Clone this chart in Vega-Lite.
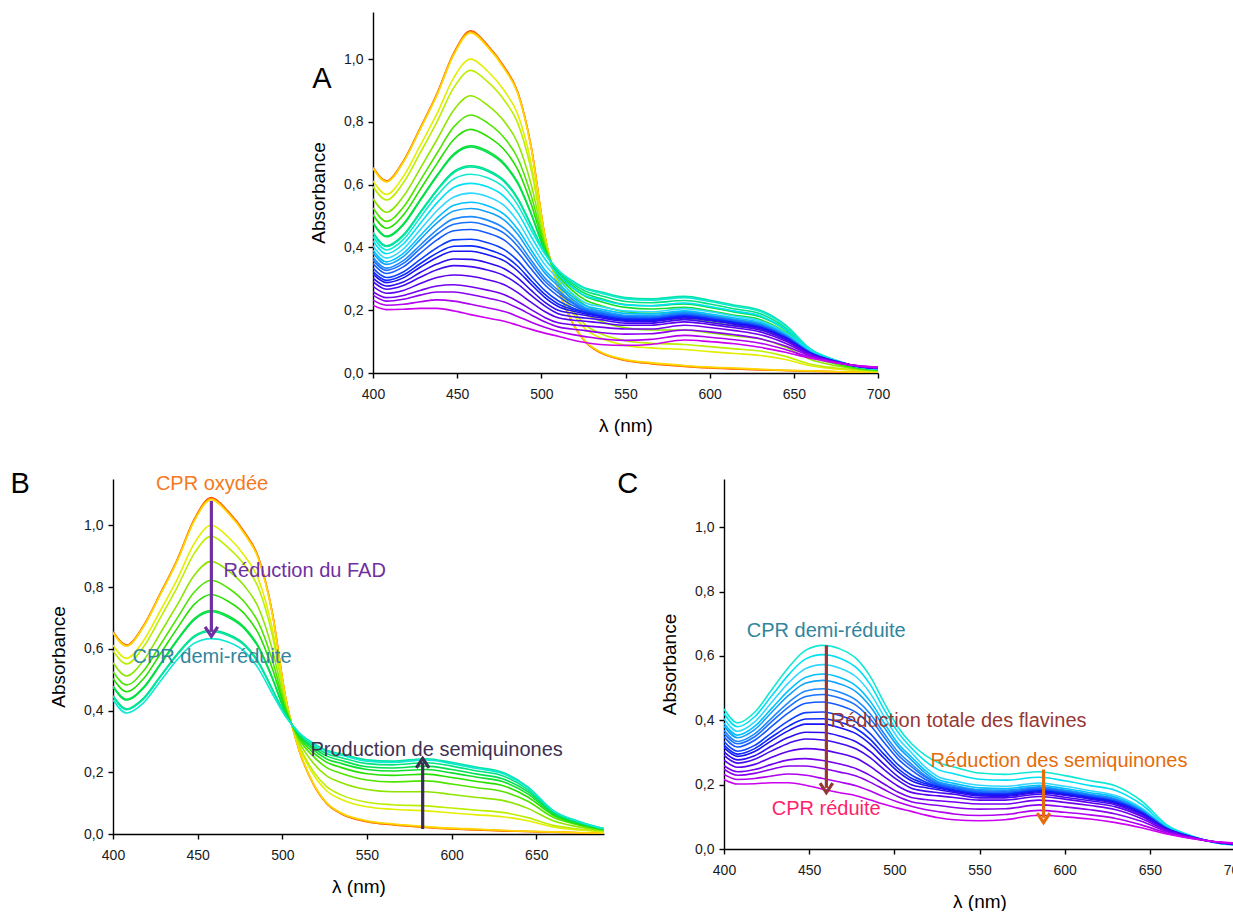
{
"$schema":"https://vega.github.io/schema/vega-lite/v6.json",
"background":"white",
"padding":{"left":10,"top":12,"right":0,"bottom":0},
"autosize":{"type":"pad"},
"config":{
 "view":{"stroke":null},
 "font":"Liberation Sans",
 "axis":{"domainColor":"#000","domainWidth":1.4,"tickColor":"#000","tickWidth":1.4,"tickSize":5,"labelColor":"#1a1a1a","labelFontSize":14,"labelFont":"Liberation Sans","titleFont":"Liberation Sans","titleFontSize":19,"titleFontWeight":"normal","titleColor":"#000","grid":false,"labelFlush":false,"labelOverlap":false},
 "axisX":{"labelPadding":9,"titlePadding":15},
 "axisY":{"labelPadding":5,"titlePadding":15}
},
"datasets":{"s":[
{"c":1,"w":400,"a":0.655},{"c":1,"w":408,"a":0.612},{"c":1,"w":418,"a":0.675},{"c":1,"w":428,"a":0.780},{"c":1,"w":438,"a":0.890},{"c":1,"w":448,"a":1.020},{"c":1,"w":458,"a":1.090},{"c":1,"w":468,"a":1.045},{"c":1,"w":478,"a":0.975},{"c":1,"w":486,"a":0.895},{"c":1,"w":494,"a":0.720},{"c":1,"w":502,"a":0.440},{"c":1,"w":510,"a":0.270},{"c":1,"w":518,"a":0.165},{"c":1,"w":526,"a":0.100},{"c":1,"w":535,"a":0.065},{"c":1,"w":550,"a":0.040},{"c":1,"w":565,"a":0.030},{"c":1,"w":585,"a":0.021},{"c":1,"w":600,"a":0.016},{"c":1,"w":615,"a":0.013},{"c":1,"w":630,"a":0.010},{"c":1,"w":645,"a":0.008},{"c":1,"w":660,"a":0.006},{"c":1,"w":675,"a":0.004},{"c":1,"w":690,"a":0.003},{"c":1,"w":700,"a":0.003},
{"c":2,"w":400,"a":0.653},{"c":2,"w":408,"a":0.610},{"c":2,"w":418,"a":0.673},{"c":2,"w":428,"a":0.778},{"c":2,"w":438,"a":0.888},{"c":2,"w":448,"a":1.017},{"c":2,"w":458,"a":1.087},{"c":2,"w":468,"a":1.042},{"c":2,"w":478,"a":0.972},{"c":2,"w":486,"a":0.892},{"c":2,"w":494,"a":0.718},{"c":2,"w":502,"a":0.440},{"c":2,"w":510,"a":0.270},{"c":2,"w":518,"a":0.166},{"c":2,"w":526,"a":0.101},{"c":2,"w":535,"a":0.066},{"c":2,"w":550,"a":0.041},{"c":2,"w":565,"a":0.031},{"c":2,"w":585,"a":0.022},{"c":2,"w":600,"a":0.017},{"c":2,"w":615,"a":0.014},{"c":2,"w":630,"a":0.011},{"c":2,"w":645,"a":0.008},{"c":2,"w":660,"a":0.006},{"c":2,"w":675,"a":0.004},{"c":2,"w":690,"a":0.003},{"c":2,"w":700,"a":0.003},
{"c":3,"w":400,"a":0.652},{"c":3,"w":408,"a":0.609},{"c":3,"w":418,"a":0.671},{"c":3,"w":428,"a":0.776},{"c":3,"w":438,"a":0.885},{"c":3,"w":448,"a":1.014},{"c":3,"w":458,"a":1.083},{"c":3,"w":468,"a":1.039},{"c":3,"w":478,"a":0.969},{"c":3,"w":486,"a":0.890},{"c":3,"w":494,"a":0.716},{"c":3,"w":502,"a":0.439},{"c":3,"w":510,"a":0.271},{"c":3,"w":518,"a":0.167},{"c":3,"w":526,"a":0.102},{"c":3,"w":535,"a":0.068},{"c":3,"w":550,"a":0.043},{"c":3,"w":565,"a":0.033},{"c":3,"w":585,"a":0.024},{"c":3,"w":600,"a":0.019},{"c":3,"w":615,"a":0.016},{"c":3,"w":630,"a":0.012},{"c":3,"w":645,"a":0.009},{"c":3,"w":660,"a":0.007},{"c":3,"w":675,"a":0.005},{"c":3,"w":690,"a":0.003},{"c":3,"w":700,"a":0.003},
{"c":4,"w":400,"a":0.612},{"c":4,"w":408,"a":0.569},{"c":4,"w":418,"a":0.626},{"c":4,"w":428,"a":0.724},{"c":4,"w":438,"a":0.826},{"c":4,"w":448,"a":0.941},{"c":4,"w":458,"a":1.000},{"c":4,"w":468,"a":0.962},{"c":4,"w":478,"a":0.899},{"c":4,"w":486,"a":0.824},{"c":4,"w":494,"a":0.668},{"c":4,"w":502,"a":0.428},{"c":4,"w":510,"a":0.283},{"c":4,"w":518,"a":0.196},{"c":4,"w":526,"a":0.141},{"c":4,"w":535,"a":0.112},{"c":4,"w":550,"a":0.088},{"c":4,"w":565,"a":0.080},{"c":4,"w":585,"a":0.075},{"c":4,"w":600,"a":0.068},{"c":4,"w":615,"a":0.062},{"c":4,"w":630,"a":0.056},{"c":4,"w":645,"a":0.043},{"c":4,"w":660,"a":0.023},{"c":4,"w":675,"a":0.013},{"c":4,"w":690,"a":0.007},{"c":4,"w":700,"a":0.005},
{"c":5,"w":400,"a":0.594},{"c":5,"w":408,"a":0.551},{"c":5,"w":418,"a":0.606},{"c":5,"w":428,"a":0.701},{"c":5,"w":438,"a":0.800},{"c":5,"w":448,"a":0.909},{"c":5,"w":458,"a":0.964},{"c":5,"w":468,"a":0.928},{"c":5,"w":478,"a":0.869},{"c":5,"w":486,"a":0.796},{"c":5,"w":494,"a":0.647},{"c":5,"w":502,"a":0.423},{"c":5,"w":510,"a":0.287},{"c":5,"w":518,"a":0.206},{"c":5,"w":526,"a":0.154},{"c":5,"w":535,"a":0.126},{"c":5,"w":550,"a":0.103},{"c":5,"w":565,"a":0.095},{"c":5,"w":585,"a":0.091},{"c":5,"w":600,"a":0.084},{"c":5,"w":615,"a":0.077},{"c":5,"w":630,"a":0.070},{"c":5,"w":645,"a":0.053},{"c":5,"w":660,"a":0.028},{"c":5,"w":675,"a":0.016},{"c":5,"w":690,"a":0.008},{"c":5,"w":700,"a":0.006},
{"c":6,"w":400,"a":0.555},{"c":6,"w":408,"a":0.512},{"c":6,"w":418,"a":0.562},{"c":6,"w":428,"a":0.651},{"c":6,"w":438,"a":0.743},{"c":6,"w":448,"a":0.838},{"c":6,"w":458,"a":0.883},{"c":6,"w":468,"a":0.853},{"c":6,"w":478,"a":0.801},{"c":6,"w":486,"a":0.732},{"c":6,"w":494,"a":0.600},{"c":6,"w":502,"a":0.413},{"c":6,"w":510,"a":0.298},{"c":6,"w":518,"a":0.232},{"c":6,"w":526,"a":0.189},{"c":6,"w":535,"a":0.166},{"c":6,"w":550,"a":0.144},{"c":6,"w":565,"a":0.137},{"c":6,"w":585,"a":0.137},{"c":6,"w":600,"a":0.128},{"c":6,"w":615,"a":0.118},{"c":6,"w":630,"a":0.109},{"c":6,"w":645,"a":0.083},{"c":6,"w":660,"a":0.043},{"c":6,"w":675,"a":0.023},{"c":6,"w":690,"a":0.011},{"c":6,"w":700,"a":0.008},
{"c":7,"w":400,"a":0.526},{"c":7,"w":408,"a":0.483},{"c":7,"w":418,"a":0.528},{"c":7,"w":428,"a":0.613},{"c":7,"w":438,"a":0.700},{"c":7,"w":448,"a":0.784},{"c":7,"w":458,"a":0.822},{"c":7,"w":468,"a":0.797},{"c":7,"w":478,"a":0.749},{"c":7,"w":486,"a":0.684},{"c":7,"w":494,"a":0.565},{"c":7,"w":502,"a":0.405},{"c":7,"w":510,"a":0.307},{"c":7,"w":518,"a":0.253},{"c":7,"w":526,"a":0.216},{"c":7,"w":535,"a":0.196},{"c":7,"w":550,"a":0.175},{"c":7,"w":565,"a":0.169},{"c":7,"w":585,"a":0.172},{"c":7,"w":600,"a":0.162},{"c":7,"w":615,"a":0.150},{"c":7,"w":630,"a":0.138},{"c":7,"w":645,"a":0.106},{"c":7,"w":660,"a":0.054},{"c":7,"w":675,"a":0.029},{"c":7,"w":690,"a":0.013},{"c":7,"w":700,"a":0.009},
{"c":8,"w":400,"a":0.504},{"c":8,"w":408,"a":0.461},{"c":8,"w":418,"a":0.503},{"c":8,"w":428,"a":0.584},{"c":8,"w":438,"a":0.667},{"c":8,"w":448,"a":0.744},{"c":8,"w":458,"a":0.776},{"c":8,"w":468,"a":0.754},{"c":8,"w":478,"a":0.711},{"c":8,"w":486,"a":0.648},{"c":8,"w":494,"a":0.538},{"c":8,"w":502,"a":0.399},{"c":8,"w":510,"a":0.313},{"c":8,"w":518,"a":0.265},{"c":8,"w":526,"a":0.233},{"c":8,"w":535,"a":0.215},{"c":8,"w":550,"a":0.195},{"c":8,"w":565,"a":0.190},{"c":8,"w":585,"a":0.194},{"c":8,"w":600,"a":0.183},{"c":8,"w":615,"a":0.170},{"c":8,"w":630,"a":0.157},{"c":8,"w":645,"a":0.120},{"c":8,"w":660,"a":0.061},{"c":8,"w":675,"a":0.032},{"c":8,"w":690,"a":0.015},{"c":8,"w":700,"a":0.010},
{"c":9,"w":400,"a":0.479},{"c":9,"w":408,"a":0.436},{"c":9,"w":418,"a":0.475},{"c":9,"w":428,"a":0.552},{"c":9,"w":438,"a":0.630},{"c":9,"w":448,"a":0.698},{"c":9,"w":458,"a":0.724},{"c":9,"w":468,"a":0.707},{"c":9,"w":478,"a":0.667},{"c":9,"w":486,"a":0.607},{"c":9,"w":494,"a":0.508},{"c":9,"w":502,"a":0.392},{"c":9,"w":510,"a":0.318},{"c":9,"w":518,"a":0.274},{"c":9,"w":526,"a":0.244},{"c":9,"w":535,"a":0.228},{"c":9,"w":550,"a":0.209},{"c":9,"w":565,"a":0.204},{"c":9,"w":585,"a":0.209},{"c":9,"w":600,"a":0.198},{"c":9,"w":615,"a":0.184},{"c":9,"w":630,"a":0.170},{"c":9,"w":645,"a":0.130},{"c":9,"w":660,"a":0.065},{"c":9,"w":675,"a":0.035},{"c":9,"w":690,"a":0.016},{"c":9,"w":700,"a":0.011},
{"c":10,"w":400,"a":0.477},{"c":10,"w":408,"a":0.434},{"c":10,"w":418,"a":0.472},{"c":10,"w":428,"a":0.549},{"c":10,"w":438,"a":0.627},{"c":10,"w":448,"a":0.694},{"c":10,"w":458,"a":0.720},{"c":10,"w":468,"a":0.702},{"c":10,"w":478,"a":0.663},{"c":10,"w":486,"a":0.603},{"c":10,"w":494,"a":0.505},{"c":10,"w":502,"a":0.391},{"c":10,"w":510,"a":0.320},{"c":10,"w":518,"a":0.281},{"c":10,"w":526,"a":0.253},{"c":10,"w":535,"a":0.238},{"c":10,"w":550,"a":0.218},{"c":10,"w":565,"a":0.214},{"c":10,"w":585,"a":0.220},{"c":10,"w":600,"a":0.209},{"c":10,"w":615,"a":0.194},{"c":10,"w":630,"a":0.179},{"c":10,"w":645,"a":0.137},{"c":10,"w":660,"a":0.069},{"c":10,"w":675,"a":0.037},{"c":10,"w":690,"a":0.017},{"c":10,"w":700,"a":0.011},
{"c":11,"w":400,"a":0.448},{"c":11,"w":408,"a":0.405},{"c":11,"w":418,"a":0.440},{"c":11,"w":428,"a":0.512},{"c":11,"w":438,"a":0.584},{"c":11,"w":448,"a":0.642},{"c":11,"w":458,"a":0.660},{"c":11,"w":468,"a":0.647},{"c":11,"w":478,"a":0.613},{"c":11,"w":486,"a":0.557},{"c":11,"w":494,"a":0.471},{"c":11,"w":502,"a":0.384},{"c":11,"w":510,"a":0.325},{"c":11,"w":518,"a":0.287},{"c":11,"w":526,"a":0.261},{"c":11,"w":535,"a":0.247},{"c":11,"w":550,"a":0.228},{"c":11,"w":565,"a":0.224},{"c":11,"w":585,"a":0.231},{"c":11,"w":600,"a":0.220},{"c":11,"w":615,"a":0.204},{"c":11,"w":630,"a":0.189},{"c":11,"w":645,"a":0.144},{"c":11,"w":660,"a":0.072},{"c":11,"w":675,"a":0.039},{"c":11,"w":690,"a":0.017},{"c":11,"w":700,"a":0.012},
{"c":12,"w":400,"a":0.446},{"c":12,"w":408,"a":0.403},{"c":12,"w":418,"a":0.437},{"c":12,"w":428,"a":0.509},{"c":12,"w":438,"a":0.581},{"c":12,"w":448,"a":0.638},{"c":12,"w":458,"a":0.656},{"c":12,"w":468,"a":0.643},{"c":12,"w":478,"a":0.609},{"c":12,"w":486,"a":0.553},{"c":12,"w":494,"a":0.468},{"c":12,"w":502,"a":0.383},{"c":12,"w":510,"a":0.327},{"c":12,"w":518,"a":0.295},{"c":12,"w":526,"a":0.271},{"c":12,"w":535,"a":0.259},{"c":12,"w":550,"a":0.240},{"c":12,"w":565,"a":0.236},{"c":12,"w":585,"a":0.244},{"c":12,"w":600,"a":0.232},{"c":12,"w":615,"a":0.216},{"c":12,"w":630,"a":0.200},{"c":12,"w":645,"a":0.153},{"c":12,"w":660,"a":0.076},{"c":12,"w":675,"a":0.041},{"c":12,"w":690,"a":0.018},{"c":12,"w":700,"a":0.012},
{"c":13,"w":400,"a":0.435},{"c":13,"w":408,"a":0.392},{"c":13,"w":418,"a":0.425},{"c":13,"w":428,"a":0.495},{"c":13,"w":438,"a":0.565},{"c":13,"w":448,"a":0.618},{"c":13,"w":458,"a":0.633},{"c":13,"w":468,"a":0.622},{"c":13,"w":478,"a":0.590},{"c":13,"w":486,"a":0.535},{"c":13,"w":494,"a":0.455},{"c":13,"w":502,"a":0.380},{"c":13,"w":510,"a":0.328},{"c":13,"w":518,"a":0.292},{"c":13,"w":526,"a":0.268},{"c":13,"w":535,"a":0.255},{"c":13,"w":550,"a":0.236},{"c":13,"w":565,"a":0.232},{"c":13,"w":585,"a":0.240},{"c":13,"w":600,"a":0.228},{"c":13,"w":615,"a":0.212},{"c":13,"w":630,"a":0.196},{"c":13,"w":645,"a":0.150},{"c":13,"w":660,"a":0.075},{"c":13,"w":675,"a":0.040},{"c":13,"w":690,"a":0.018},{"c":13,"w":700,"a":0.012},
{"c":14,"w":400,"a":0.421},{"c":14,"w":408,"a":0.380},{"c":14,"w":418,"a":0.411},{"c":14,"w":428,"a":0.476},{"c":14,"w":438,"a":0.542},{"c":14,"w":448,"a":0.591},{"c":14,"w":458,"a":0.604},{"c":14,"w":468,"a":0.593},{"c":14,"w":478,"a":0.562},{"c":14,"w":486,"a":0.510},{"c":14,"w":494,"a":0.434},{"c":14,"w":502,"a":0.364},{"c":14,"w":510,"a":0.314},{"c":14,"w":518,"a":0.274},{"c":14,"w":526,"a":0.246},{"c":14,"w":535,"a":0.234},{"c":14,"w":550,"a":0.217},{"c":14,"w":565,"a":0.214},{"c":14,"w":585,"a":0.223},{"c":14,"w":600,"a":0.212},{"c":14,"w":615,"a":0.197},{"c":14,"w":630,"a":0.182},{"c":14,"w":645,"a":0.139},{"c":14,"w":660,"a":0.071},{"c":14,"w":675,"a":0.039},{"c":14,"w":690,"a":0.019},{"c":14,"w":700,"a":0.013},
{"c":15,"w":400,"a":0.405},{"c":15,"w":408,"a":0.366},{"c":15,"w":418,"a":0.395},{"c":15,"w":428,"a":0.456},{"c":15,"w":438,"a":0.517},{"c":15,"w":448,"a":0.561},{"c":15,"w":458,"a":0.573},{"c":15,"w":468,"a":0.562},{"c":15,"w":478,"a":0.533},{"c":15,"w":486,"a":0.483},{"c":15,"w":494,"a":0.412},{"c":15,"w":502,"a":0.346},{"c":15,"w":510,"a":0.300},{"c":15,"w":518,"a":0.255},{"c":15,"w":526,"a":0.224},{"c":15,"w":535,"a":0.212},{"c":15,"w":550,"a":0.198},{"c":15,"w":565,"a":0.195},{"c":15,"w":585,"a":0.205},{"c":15,"w":600,"a":0.195},{"c":15,"w":615,"a":0.181},{"c":15,"w":630,"a":0.166},{"c":15,"w":645,"a":0.128},{"c":15,"w":660,"a":0.068},{"c":15,"w":675,"a":0.038},{"c":15,"w":690,"a":0.019},{"c":15,"w":700,"a":0.014},
{"c":16,"w":400,"a":0.391},{"c":16,"w":408,"a":0.354},{"c":16,"w":418,"a":0.381},{"c":16,"w":428,"a":0.437},{"c":16,"w":438,"a":0.493},{"c":16,"w":448,"a":0.534},{"c":16,"w":458,"a":0.544},{"c":16,"w":468,"a":0.533},{"c":16,"w":478,"a":0.505},{"c":16,"w":486,"a":0.458},{"c":16,"w":494,"a":0.392},{"c":16,"w":502,"a":0.329},{"c":16,"w":510,"a":0.286},{"c":16,"w":518,"a":0.245},{"c":16,"w":526,"a":0.215},{"c":16,"w":535,"a":0.204},{"c":16,"w":550,"a":0.190},{"c":16,"w":565,"a":0.188},{"c":16,"w":585,"a":0.198},{"c":16,"w":600,"a":0.188},{"c":16,"w":615,"a":0.175},{"c":16,"w":630,"a":0.161},{"c":16,"w":645,"a":0.124},{"c":16,"w":660,"a":0.066},{"c":16,"w":675,"a":0.038},{"c":16,"w":690,"a":0.019},{"c":16,"w":700,"a":0.014},
{"c":17,"w":400,"a":0.382},{"c":17,"w":408,"a":0.346},{"c":17,"w":418,"a":0.371},{"c":17,"w":428,"a":0.425},{"c":17,"w":438,"a":0.478},{"c":17,"w":448,"a":0.516},{"c":17,"w":458,"a":0.524},{"c":17,"w":468,"a":0.513},{"c":17,"w":478,"a":0.487},{"c":17,"w":486,"a":0.442},{"c":17,"w":494,"a":0.378},{"c":17,"w":502,"a":0.319},{"c":17,"w":510,"a":0.277},{"c":17,"w":518,"a":0.237},{"c":17,"w":526,"a":0.208},{"c":17,"w":535,"a":0.198},{"c":17,"w":550,"a":0.184},{"c":17,"w":565,"a":0.183},{"c":17,"w":585,"a":0.193},{"c":17,"w":600,"a":0.183},{"c":17,"w":615,"a":0.170},{"c":17,"w":630,"a":0.156},{"c":17,"w":645,"a":0.121},{"c":17,"w":660,"a":0.065},{"c":17,"w":675,"a":0.037},{"c":17,"w":690,"a":0.019},{"c":17,"w":700,"a":0.014},
{"c":18,"w":400,"a":0.369},{"c":18,"w":408,"a":0.334},{"c":18,"w":418,"a":0.358},{"c":18,"w":428,"a":0.407},{"c":18,"w":438,"a":0.456},{"c":18,"w":448,"a":0.491},{"c":18,"w":458,"a":0.498},{"c":18,"w":468,"a":0.487},{"c":18,"w":478,"a":0.461},{"c":18,"w":486,"a":0.419},{"c":18,"w":494,"a":0.359},{"c":18,"w":502,"a":0.303},{"c":18,"w":510,"a":0.264},{"c":18,"w":518,"a":0.229},{"c":18,"w":526,"a":0.205},{"c":18,"w":535,"a":0.194},{"c":18,"w":550,"a":0.181},{"c":18,"w":565,"a":0.180},{"c":18,"w":585,"a":0.190},{"c":18,"w":600,"a":0.181},{"c":18,"w":615,"a":0.168},{"c":18,"w":630,"a":0.154},{"c":18,"w":645,"a":0.119},{"c":18,"w":660,"a":0.065},{"c":18,"w":675,"a":0.037},{"c":18,"w":690,"a":0.019},{"c":18,"w":700,"a":0.015},
{"c":19,"w":400,"a":0.360},{"c":19,"w":408,"a":0.327},{"c":19,"w":418,"a":0.349},{"c":19,"w":428,"a":0.396},{"c":19,"w":438,"a":0.442},{"c":19,"w":448,"a":0.474},{"c":19,"w":458,"a":0.480},{"c":19,"w":468,"a":0.469},{"c":19,"w":478,"a":0.445},{"c":19,"w":486,"a":0.404},{"c":19,"w":494,"a":0.347},{"c":19,"w":502,"a":0.293},{"c":19,"w":510,"a":0.256},{"c":19,"w":518,"a":0.224},{"c":19,"w":526,"a":0.201},{"c":19,"w":535,"a":0.191},{"c":19,"w":550,"a":0.178},{"c":19,"w":565,"a":0.177},{"c":19,"w":585,"a":0.187},{"c":19,"w":600,"a":0.178},{"c":19,"w":615,"a":0.166},{"c":19,"w":630,"a":0.152},{"c":19,"w":645,"a":0.117},{"c":19,"w":660,"a":0.064},{"c":19,"w":675,"a":0.037},{"c":19,"w":690,"a":0.020},{"c":19,"w":700,"a":0.015},
{"c":20,"w":400,"a":0.349},{"c":20,"w":408,"a":0.317},{"c":20,"w":418,"a":0.338},{"c":20,"w":428,"a":0.381},{"c":20,"w":438,"a":0.424},{"c":20,"w":448,"a":0.453},{"c":20,"w":458,"a":0.457},{"c":20,"w":468,"a":0.446},{"c":20,"w":478,"a":0.423},{"c":20,"w":486,"a":0.384},{"c":20,"w":494,"a":0.331},{"c":20,"w":502,"a":0.281},{"c":20,"w":510,"a":0.245},{"c":20,"w":518,"a":0.217},{"c":20,"w":526,"a":0.198},{"c":20,"w":535,"a":0.188},{"c":20,"w":550,"a":0.175},{"c":20,"w":565,"a":0.174},{"c":20,"w":585,"a":0.185},{"c":20,"w":600,"a":0.176},{"c":20,"w":615,"a":0.163},{"c":20,"w":630,"a":0.149},{"c":20,"w":645,"a":0.116},{"c":20,"w":660,"a":0.064},{"c":20,"w":675,"a":0.037},{"c":20,"w":690,"a":0.020},{"c":20,"w":700,"a":0.015},
{"c":21,"w":400,"a":0.334},{"c":21,"w":408,"a":0.304},{"c":21,"w":418,"a":0.322},{"c":21,"w":428,"a":0.361},{"c":21,"w":438,"a":0.399},{"c":21,"w":448,"a":0.424},{"c":21,"w":458,"a":0.426},{"c":21,"w":468,"a":0.415},{"c":21,"w":478,"a":0.393},{"c":21,"w":486,"a":0.358},{"c":21,"w":494,"a":0.309},{"c":21,"w":502,"a":0.263},{"c":21,"w":510,"a":0.230},{"c":21,"w":518,"a":0.209},{"c":21,"w":526,"a":0.194},{"c":21,"w":535,"a":0.184},{"c":21,"w":550,"a":0.172},{"c":21,"w":565,"a":0.171},{"c":21,"w":585,"a":0.182},{"c":21,"w":600,"a":0.173},{"c":21,"w":615,"a":0.161},{"c":21,"w":630,"a":0.147},{"c":21,"w":645,"a":0.114},{"c":21,"w":660,"a":0.063},{"c":21,"w":675,"a":0.037},{"c":21,"w":690,"a":0.020},{"c":21,"w":700,"a":0.015},
{"c":22,"w":400,"a":0.323},{"c":22,"w":408,"a":0.295},{"c":22,"w":418,"a":0.312},{"c":22,"w":428,"a":0.348},{"c":22,"w":438,"a":0.382},{"c":22,"w":448,"a":0.404},{"c":22,"w":458,"a":0.405},{"c":22,"w":468,"a":0.394},{"c":22,"w":478,"a":0.373},{"c":22,"w":486,"a":0.340},{"c":22,"w":494,"a":0.294},{"c":22,"w":502,"a":0.251},{"c":22,"w":510,"a":0.220},{"c":22,"w":518,"a":0.204},{"c":22,"w":526,"a":0.193},{"c":22,"w":535,"a":0.183},{"c":22,"w":550,"a":0.171},{"c":22,"w":565,"a":0.170},{"c":22,"w":585,"a":0.181},{"c":22,"w":600,"a":0.172},{"c":22,"w":615,"a":0.160},{"c":22,"w":630,"a":0.146},{"c":22,"w":645,"a":0.113},{"c":22,"w":660,"a":0.063},{"c":22,"w":675,"a":0.036},{"c":22,"w":690,"a":0.020},{"c":22,"w":700,"a":0.015},
{"c":23,"w":400,"a":0.315},{"c":23,"w":408,"a":0.288},{"c":23,"w":418,"a":0.303},{"c":23,"w":428,"a":0.337},{"c":23,"w":438,"a":0.368},{"c":23,"w":448,"a":0.388},{"c":23,"w":458,"a":0.388},{"c":23,"w":468,"a":0.377},{"c":23,"w":478,"a":0.357},{"c":23,"w":486,"a":0.325},{"c":23,"w":494,"a":0.282},{"c":23,"w":502,"a":0.241},{"c":23,"w":510,"a":0.212},{"c":23,"w":518,"a":0.198},{"c":23,"w":526,"a":0.189},{"c":23,"w":535,"a":0.180},{"c":23,"w":550,"a":0.168},{"c":23,"w":565,"a":0.167},{"c":23,"w":585,"a":0.178},{"c":23,"w":600,"a":0.169},{"c":23,"w":615,"a":0.157},{"c":23,"w":630,"a":0.144},{"c":23,"w":645,"a":0.111},{"c":23,"w":660,"a":0.062},{"c":23,"w":675,"a":0.036},{"c":23,"w":690,"a":0.020},{"c":23,"w":700,"a":0.015},
{"c":24,"w":400,"a":0.302},{"c":24,"w":408,"a":0.277},{"c":24,"w":418,"a":0.290},{"c":24,"w":428,"a":0.320},{"c":24,"w":438,"a":0.347},{"c":24,"w":448,"a":0.363},{"c":24,"w":458,"a":0.362},{"c":24,"w":468,"a":0.351},{"c":24,"w":478,"a":0.332},{"c":24,"w":486,"a":0.303},{"c":24,"w":494,"a":0.263},{"c":24,"w":502,"a":0.226},{"c":24,"w":510,"a":0.200},{"c":24,"w":518,"a":0.191},{"c":24,"w":526,"a":0.184},{"c":24,"w":535,"a":0.176},{"c":24,"w":550,"a":0.165},{"c":24,"w":565,"a":0.164},{"c":24,"w":585,"a":0.175},{"c":24,"w":600,"a":0.167},{"c":24,"w":615,"a":0.155},{"c":24,"w":630,"a":0.141},{"c":24,"w":645,"a":0.110},{"c":24,"w":660,"a":0.062},{"c":24,"w":675,"a":0.036},{"c":24,"w":690,"a":0.020},{"c":24,"w":700,"a":0.015},
{"c":25,"w":400,"a":0.291},{"c":25,"w":408,"a":0.267},{"c":25,"w":418,"a":0.279},{"c":25,"w":428,"a":0.305},{"c":25,"w":438,"a":0.329},{"c":25,"w":448,"a":0.342},{"c":25,"w":458,"a":0.339},{"c":25,"w":468,"a":0.328},{"c":25,"w":478,"a":0.310},{"c":25,"w":486,"a":0.283},{"c":25,"w":494,"a":0.247},{"c":25,"w":502,"a":0.214},{"c":25,"w":510,"a":0.189},{"c":25,"w":518,"a":0.180},{"c":25,"w":526,"a":0.175},{"c":25,"w":535,"a":0.170},{"c":25,"w":550,"a":0.159},{"c":25,"w":565,"a":0.159},{"c":25,"w":585,"a":0.170},{"c":25,"w":600,"a":0.161},{"c":25,"w":615,"a":0.150},{"c":25,"w":630,"a":0.137},{"c":25,"w":645,"a":0.106},{"c":25,"w":660,"a":0.060},{"c":25,"w":675,"a":0.036},{"c":25,"w":690,"a":0.020},{"c":25,"w":700,"a":0.016},
{"c":26,"w":400,"a":0.276},{"c":26,"w":408,"a":0.254},{"c":26,"w":418,"a":0.263},{"c":26,"w":428,"a":0.285},{"c":26,"w":438,"a":0.304},{"c":26,"w":448,"a":0.312},{"c":26,"w":458,"a":0.308},{"c":26,"w":468,"a":0.297},{"c":26,"w":478,"a":0.281},{"c":26,"w":486,"a":0.256},{"c":26,"w":494,"a":0.225},{"c":26,"w":502,"a":0.196},{"c":26,"w":510,"a":0.176},{"c":26,"w":518,"a":0.169},{"c":26,"w":526,"a":0.165},{"c":26,"w":535,"a":0.160},{"c":26,"w":550,"a":0.152},{"c":26,"w":565,"a":0.152},{"c":26,"w":585,"a":0.163},{"c":26,"w":600,"a":0.155},{"c":26,"w":615,"a":0.144},{"c":26,"w":630,"a":0.131},{"c":26,"w":645,"a":0.102},{"c":26,"w":660,"a":0.059},{"c":26,"w":675,"a":0.035},{"c":26,"w":690,"a":0.020},{"c":26,"w":700,"a":0.016},
{"c":27,"w":400,"a":0.259},{"c":27,"w":408,"a":0.240},{"c":27,"w":418,"a":0.247},{"c":27,"w":428,"a":0.263},{"c":27,"w":438,"a":0.277},{"c":27,"w":448,"a":0.281},{"c":27,"w":458,"a":0.275},{"c":27,"w":468,"a":0.264},{"c":27,"w":478,"a":0.249},{"c":27,"w":486,"a":0.228},{"c":27,"w":494,"a":0.202},{"c":27,"w":502,"a":0.177},{"c":27,"w":510,"a":0.160},{"c":27,"w":518,"a":0.154},{"c":27,"w":526,"a":0.150},{"c":27,"w":535,"a":0.146},{"c":27,"w":550,"a":0.140},{"c":27,"w":565,"a":0.140},{"c":27,"w":585,"a":0.152},{"c":27,"w":600,"a":0.145},{"c":27,"w":615,"a":0.135},{"c":27,"w":630,"a":0.122},{"c":27,"w":645,"a":0.095},{"c":27,"w":660,"a":0.057},{"c":27,"w":675,"a":0.035},{"c":27,"w":690,"a":0.021},{"c":27,"w":700,"a":0.017},
{"c":28,"w":400,"a":0.248},{"c":28,"w":408,"a":0.229},{"c":28,"w":418,"a":0.235},{"c":28,"w":428,"a":0.248},{"c":28,"w":438,"a":0.258},{"c":28,"w":448,"a":0.258},{"c":28,"w":458,"a":0.250},{"c":28,"w":468,"a":0.239},{"c":28,"w":478,"a":0.226},{"c":28,"w":486,"a":0.207},{"c":28,"w":494,"a":0.185},{"c":28,"w":502,"a":0.163},{"c":28,"w":510,"a":0.147},{"c":28,"w":518,"a":0.140},{"c":28,"w":526,"a":0.135},{"c":28,"w":535,"a":0.129},{"c":28,"w":550,"a":0.124},{"c":28,"w":565,"a":0.125},{"c":28,"w":585,"a":0.137},{"c":28,"w":600,"a":0.131},{"c":28,"w":615,"a":0.122},{"c":28,"w":630,"a":0.109},{"c":28,"w":645,"a":0.086},{"c":28,"w":660,"a":0.054},{"c":28,"w":675,"a":0.034},{"c":28,"w":690,"a":0.021},{"c":28,"w":700,"a":0.017},
{"c":29,"w":400,"a":0.232},{"c":29,"w":408,"a":0.216},{"c":29,"w":418,"a":0.219},{"c":29,"w":428,"a":0.227},{"c":29,"w":438,"a":0.233},{"c":29,"w":448,"a":0.229},{"c":29,"w":458,"a":0.219},{"c":29,"w":468,"a":0.208},{"c":29,"w":478,"a":0.196},{"c":29,"w":486,"a":0.180},{"c":29,"w":494,"a":0.162},{"c":29,"w":502,"a":0.146},{"c":29,"w":510,"a":0.133},{"c":29,"w":518,"a":0.123},{"c":29,"w":526,"a":0.116},{"c":29,"w":535,"a":0.109},{"c":29,"w":550,"a":0.104},{"c":29,"w":565,"a":0.107},{"c":29,"w":585,"a":0.120},{"c":29,"w":600,"a":0.114},{"c":29,"w":615,"a":0.106},{"c":29,"w":630,"a":0.095},{"c":29,"w":645,"a":0.075},{"c":29,"w":660,"a":0.050},{"c":29,"w":675,"a":0.033},{"c":29,"w":690,"a":0.022},{"c":29,"w":700,"a":0.018},
{"c":30,"w":400,"a":0.216},{"c":30,"w":408,"a":0.202},{"c":30,"w":418,"a":0.203},{"c":30,"w":428,"a":0.206},{"c":30,"w":438,"a":0.206},{"c":30,"w":448,"a":0.198},{"c":30,"w":458,"a":0.186},{"c":30,"w":468,"a":0.175},{"c":30,"w":478,"a":0.165},{"c":30,"w":486,"a":0.152},{"c":30,"w":494,"a":0.139},{"c":30,"w":502,"a":0.127},{"c":30,"w":510,"a":0.117},{"c":30,"w":518,"a":0.106},{"c":30,"w":526,"a":0.097},{"c":30,"w":535,"a":0.091},{"c":30,"w":550,"a":0.088},{"c":30,"w":565,"a":0.091},{"c":30,"w":585,"a":0.105},{"c":30,"w":600,"a":0.100},{"c":30,"w":615,"a":0.093},{"c":30,"w":630,"a":0.082},{"c":30,"w":645,"a":0.066},{"c":30,"w":660,"a":0.047},{"c":30,"w":675,"a":0.032},{"c":30,"w":690,"a":0.022},{"c":30,"w":700,"a":0.019}
]},
"spacing":34,
"vconcat":[
 {"spacing":0,"hconcat":[
  {"width":196,"height":10,"data":{"values":[]},"mark":"point"},
  {"width":505,"height":361,
   "layer":[
    {"data":{"name":"s"},
     "mark":{"type":"line","interpolate":"monotone","strokeWidth":1.6,"clip":true},
     "encoding":{
      "x":{"field":"w","type":"quantitative","scale":{"domain":[400,700],"nice":false,"zero":false},"axis":{"values":[400,450,500,550,600,650,700],"format":"d","title":"λ (nm)"}},
      "y":{"field":"a","type":"quantitative","scale":{"domain":[0,1.15],"nice":false},"axis":{"values":[0,0.2,0.4,0.6,0.8,1],"labelExpr":"replace(format(datum.value,'.1f'),'.',',')","title":"Absorbance"}},
      "color":{"field":"c","type":"nominal","legend":null,"scale":{"domain":[1,2,3,4,5,6,7,8,9,10,11,12,13,14,15,16,17,18,19,20,21,22,23,24,25,26,27,28,29,30],"range":["#ff4a00","#ff9a00","#ffd800","#e4ee00","#bcee00","#8ee600","#50e400","#26e000","#0ee030","#00e050","#00e27e","#00e4a4","#10e8d4","#00e0f4","#30d8ff","#00c0ff","#12a0ff","#1e88ff","#1a70ff","#1458ff","#0e40ff","#0c28ff","#1814f4","#2c0cf0","#440af0","#5c00f0","#7400f0","#8c00f0","#b000f0","#cc00f0"]}}
     }},
    {"data":{"values":[{}]},"mark":{"type":"text","text":"A","fontSize":29,"font":"Liberation Sans","color":"#000"},"encoding":{"x":{"datum":369.7},"y":{"datum":0.937}}}
   ]}
 ]},
 {"spacing":13,"hconcat":[
  {"width":491,"height":355,
   "layer":[
    {"data":{"name":"s"},
     "transform":[{"filter":"datum.c <= 13"}],
     "mark":{"type":"line","interpolate":"monotone","strokeWidth":1.6,"clip":true},
     "encoding":{
      "x":{"field":"w","type":"quantitative","scale":{"domain":[400,690],"nice":false,"zero":false},"axis":{"values":[400,450,500,550,600,650],"format":"d","title":"λ (nm)"}},
      "y":{"field":"a","type":"quantitative","scale":{"domain":[0,1.15],"nice":false},"axis":{"values":[0,0.2,0.4,0.6,0.8,1],"labelExpr":"replace(format(datum.value,'.1f'),'.',',')","title":"Absorbance"}},
      "color":{"field":"c","type":"nominal","legend":null,"scale":{"domain":[1,2,3,4,5,6,7,8,9,10,11,12,13,14,15,16,17,18,19,20,21,22,23,24,25,26,27,28,29,30],"range":["#ff4a00","#ff9a00","#ffd800","#e4ee00","#bcee00","#8ee600","#50e400","#26e000","#0ee030","#00e050","#00e27e","#00e4a4","#10e8d4","#00e0f4","#30d8ff","#00c0ff","#12a0ff","#1e88ff","#1a70ff","#1458ff","#0e40ff","#0c28ff","#1814f4","#2c0cf0","#440af0","#5c00f0","#7400f0","#8c00f0","#b000f0","#cc00f0"]}}
     }},
    {"data":{"values":[{}]},"mark":{"type":"text","text":"B","fontSize":29,"font":"Liberation Sans","color":"#000"},"encoding":{"x":{"datum":345.2},"y":{"datum":1.134}}},
    {"data":{"values":[{}]},"mark":{"type":"text","text":"CPR oxydée","fontSize":20,"font":"Liberation Sans","color":"#f47920"},"encoding":{"x":{"datum":458.5},"y":{"datum":1.133}}},
    {"data":{"values":[{}]},"mark":{"type":"rule","strokeWidth":3.2,"color":"#7030a0"},"encoding":{"x":{"datum":458.1},"y":{"datum":1.079},"y2":{"datum":0.655}}},
    {"data":{"values":[{}]},"mark":{"type":"point","shape":"M-1,-1.5L0,0L1,-1.5","filled":false,"size":160,"strokeWidth":3.2,"opacity":1,"color":"#7030a0"},"encoding":{"x":{"datum":458.1},"y":{"datum":0.64}}},
    {"data":{"values":[{}]},"mark":{"type":"text","text":"Réduction du FAD","fontSize":20,"font":"Liberation Sans","color":"#7030a0","align":"left"},"encoding":{"x":{"datum":465.3},"y":{"datum":0.851}}},
    {"data":{"values":[{}]},"mark":{"type":"text","text":"CPR demi-réduite","fontSize":20,"font":"Liberation Sans","color":"#31859c"},"encoding":{"x":{"datum":458.5},"y":{"datum":0.573}}},
    {"data":{"values":[{}]},"mark":{"type":"rule","strokeWidth":3.2,"color":"#3b2f4f"},"encoding":{"x":{"datum":582.9},"y":{"datum":0.016},"y2":{"datum":0.232}}},
    {"data":{"values":[{}]},"mark":{"type":"point","shape":"M-1,1.5L0,0L1,1.5","filled":false,"size":160,"strokeWidth":3.2,"opacity":1,"color":"#3b2f4f"},"encoding":{"x":{"datum":582.9},"y":{"datum":0.245}}},
    {"data":{"values":[{}]},"mark":{"type":"text","text":"Production de semiquinones","fontSize":20,"font":"Liberation Sans","color":"#403152","align":"left"},"encoding":{"x":{"datum":516.6},"y":{"datum":0.272}}}
   ]},
  {"width":511,"height":370,
   "layer":[
    {"data":{"name":"s"},
     "transform":[{"filter":"datum.c >= 13"}],
     "mark":{"type":"line","interpolate":"monotone","strokeWidth":1.6,"clip":true},
     "encoding":{
      "x":{"field":"w","type":"quantitative","scale":{"domain":[400,700],"nice":false,"zero":false},"axis":{"values":[400,450,500,550,600,650,700],"format":"d","title":"λ (nm)"}},
      "y":{"field":"a","type":"quantitative","scale":{"domain":[0,1.15],"nice":false},"axis":{"values":[0,0.2,0.4,0.6,0.8,1],"labelExpr":"replace(format(datum.value,'.1f'),'.',',')","title":"Absorbance"}},
      "color":{"field":"c","type":"nominal","legend":null,"scale":{"domain":[1,2,3,4,5,6,7,8,9,10,11,12,13,14,15,16,17,18,19,20,21,22,23,24,25,26,27,28,29,30],"range":["#ff4a00","#ff9a00","#ffd800","#e4ee00","#bcee00","#8ee600","#50e400","#26e000","#0ee030","#00e050","#00e27e","#00e4a4","#10e8d4","#00e0f4","#30d8ff","#00c0ff","#12a0ff","#1e88ff","#1a70ff","#1458ff","#0e40ff","#0c28ff","#1814f4","#2c0cf0","#440af0","#5c00f0","#7400f0","#8c00f0","#b000f0","#cc00f0"]}}
     }},
    {"data":{"values":[{}]},"mark":{"type":"text","text":"C","fontSize":29,"font":"Liberation Sans","color":"#000"},"encoding":{"x":{"datum":343.5},"y":{"datum":1.135}}},
    {"data":{"values":[{}]},"mark":{"type":"text","text":"CPR demi-réduite","fontSize":20,"font":"Liberation Sans","color":"#31859c"},"encoding":{"x":{"datum":460},"y":{"datum":0.677}}},
    {"data":{"values":[{}]},"mark":{"type":"rule","strokeWidth":3.2,"color":"#953735"},"encoding":{"x":{"datum":460.1},"y":{"datum":0.633},"y2":{"datum":0.19}}},
    {"data":{"values":[{}]},"mark":{"type":"point","shape":"M-1,-1.5L0,0L1,-1.5","filled":false,"size":160,"strokeWidth":3.2,"opacity":1,"color":"#953735"},"encoding":{"x":{"datum":460.1},"y":{"datum":0.175}}},
    {"data":{"values":[{}]},"mark":{"type":"text","text":"Réduction totale des flavines","fontSize":20,"font":"Liberation Sans","color":"#953735","align":"left"},"encoding":{"x":{"datum":462.7},"y":{"datum":0.398}}},
    {"data":{"values":[{}]},"mark":{"type":"text","text":"CPR réduite","fontSize":20,"font":"Liberation Sans","color":"#ff1f6b"},"encoding":{"x":{"datum":460},"y":{"datum":0.123}}},
    {"data":{"values":[{}]},"mark":{"type":"rule","strokeWidth":3.2,"color":"#e46c0a"},"encoding":{"x":{"datum":587.6},"y":{"datum":0.247},"y2":{"datum":0.097}}},
    {"data":{"values":[{}]},"mark":{"type":"point","shape":"M-1,-1.5L0,0L1,-1.5","filled":false,"size":160,"strokeWidth":3.2,"opacity":1,"color":"#e46c0a"},"encoding":{"x":{"datum":587.6},"y":{"datum":0.082}}},
    {"data":{"values":[{}]},"mark":{"type":"text","text":"Réduction des semiquinones","fontSize":20,"font":"Liberation Sans","color":"#e46c0a","align":"left"},"encoding":{"x":{"datum":521.3},"y":{"datum":0.273}}}
   ]}
 ]}
]
}
